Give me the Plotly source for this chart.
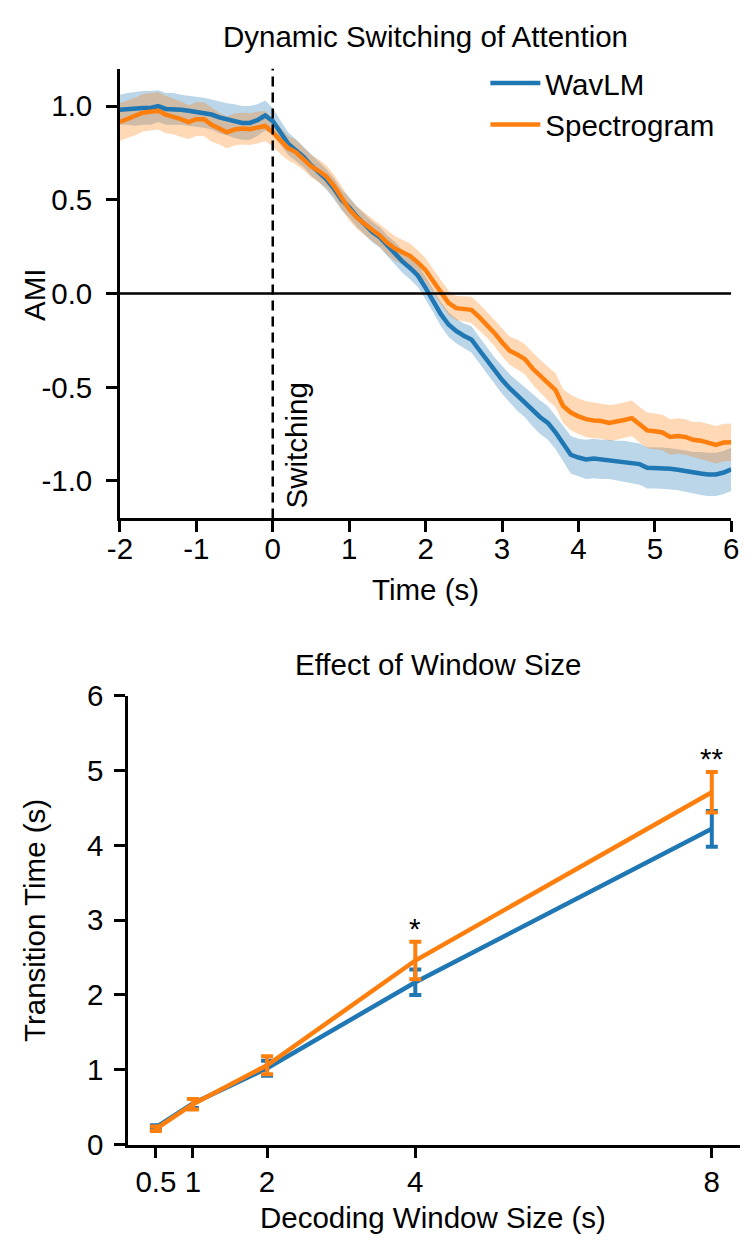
import plotly.graph_objects as go
import numpy as np

# top panel: AMI over time, 0.1 s steps from -2 to 6
time_s = np.round(np.arange(-2.0, 6.0001, 0.1), 1)

wavlm_ami = [0.98, 0.985, 0.985, 0.99, 0.99, 1.00, 0.985, 0.985, 0.98, 0.975,
             0.97, 0.965, 0.955, 0.94, 0.93, 0.92, 0.91, 0.91, 0.925, 0.95,
             0.92, 0.86, 0.80, 0.765, 0.73, 0.685, 0.65, 0.61, 0.56, 0.50,
             0.46, 0.41, 0.37, 0.33, 0.30, 0.255, 0.215, 0.17, 0.135, 0.095,
             0.03, -0.04, -0.11, -0.165, -0.20, -0.225, -0.245, -0.30, -0.355, -0.41,
             -0.46, -0.505, -0.545, -0.58, -0.625, -0.66, -0.69, -0.74, -0.80, -0.86,
             -0.875, -0.885, -0.88, -0.885, -0.885, -0.89, -0.895, -0.903, -0.91, -0.93,
             -0.93, -0.932, -0.935, -0.94, -0.948, -0.955, -0.96, -0.965, -0.965, -0.955,
             -0.938]
wavlm_sem = [0.08, 0.085, 0.09, 0.09, 0.09, 0.085, 0.085, 0.085, 0.08, 0.08,
             0.08, 0.08, 0.08, 0.085, 0.085, 0.09, 0.09, 0.09, 0.085, 0.08,
             0.07, 0.065, 0.06, 0.06, 0.055, 0.055, 0.055, 0.055, 0.055, 0.055,
             0.055, 0.055, 0.055, 0.055, 0.055, 0.055, 0.06, 0.06, 0.06, 0.06,
             0.06, 0.06, 0.065, 0.065, 0.065, 0.065, 0.07, 0.07, 0.07, 0.07,
             0.075, 0.075, 0.08, 0.08, 0.085, 0.09, 0.09, 0.09, 0.095, 0.10,
             0.10, 0.105, 0.105, 0.105, 0.105, 0.105, 0.11, 0.11, 0.11, 0.11,
             0.11, 0.11, 0.11, 0.11, 0.11, 0.11, 0.115, 0.115, 0.115, 0.115,
             0.115]

spec_ami = [0.915, 0.93, 0.945, 0.965, 0.97, 0.975, 0.955, 0.945, 0.93, 0.915,
            0.93, 0.93, 0.90, 0.88, 0.86, 0.875, 0.88, 0.877, 0.885, 0.894,
            0.86, 0.815, 0.776, 0.755, 0.72, 0.68, 0.655, 0.625, 0.575, 0.51,
            0.45, 0.405, 0.37, 0.34, 0.31, 0.27, 0.24, 0.22, 0.20, 0.165,
            0.125, 0.065, 0.005, -0.05, -0.078, -0.082, -0.087, -0.125, -0.165, -0.21,
            -0.26, -0.305, -0.325, -0.35, -0.40, -0.44, -0.48, -0.515, -0.60, -0.635,
            -0.655, -0.67, -0.677, -0.68, -0.69, -0.685, -0.675, -0.665, -0.70, -0.73,
            -0.735, -0.741, -0.765, -0.76, -0.765, -0.78, -0.785, -0.795, -0.807, -0.795,
            -0.793]
spec_sem = [0.10, 0.10, 0.10, 0.10, 0.10, 0.10, 0.10, 0.095, 0.095, 0.09,
            0.09, 0.09, 0.09, 0.085, 0.085, 0.085, 0.085, 0.085, 0.085, 0.08,
            0.075, 0.07, 0.065, 0.065, 0.06, 0.06, 0.06, 0.06, 0.06, 0.06,
            0.06, 0.06, 0.06, 0.06, 0.06, 0.065, 0.065, 0.065, 0.065, 0.065,
            0.065, 0.065, 0.065, 0.065, 0.065, 0.065, 0.07, 0.07, 0.07, 0.07,
            0.075, 0.075, 0.08, 0.08, 0.085, 0.085, 0.09, 0.09, 0.09, 0.095,
            0.095, 0.095, 0.095, 0.095, 0.095, 0.095, 0.095, 0.095, 0.095, 0.095,
            0.095, 0.095, 0.095, 0.095, 0.095, 0.095, 0.10, 0.10, 0.10, 0.10,
            0.10]

# bottom panel: transition time vs decoding window
windows = [0.5, 1, 2, 4, 8]
window_labels = ["0.5", "1", "2", "4", "8"]
wavlm_tt = [0.23, 0.55, 1.02, 2.17, 4.22]
wavlm_tt_err = [0.03, 0.06, 0.10, 0.17, 0.24]
spec_tt = [0.21, 0.54, 1.06, 2.46, 4.71]
spec_tt_err = [0.03, 0.07, 0.12, 0.25, 0.27]
sig_marks = ["", "", "", "*", "**"]

BLUE = "#1f77b4"
ORANGE = "#ff7f0e"
FONT = "Liberation Sans, Arial, sans-serif"
FS = 29.5

fig = go.Figure()


def band(x, mean, sem, rgba, axes):
    m = np.array(mean)
    s = np.array(sem)
    return go.Scatter(
        x=np.concatenate([x, x[::-1]]),
        y=np.concatenate([m + s, (m - s)[::-1]]),
        fill="toself", fillcolor=rgba, line=dict(width=0),
        mode="lines", showlegend=False, hoverinfo="skip",
        xaxis=axes[0], yaxis=axes[1])


fig.add_trace(band(time_s, wavlm_ami, wavlm_sem, "rgba(31,119,180,0.3)", ("x", "y")))
fig.add_trace(band(time_s, spec_ami, spec_sem, "rgba(255,127,14,0.3)", ("x", "y")))
fig.add_trace(go.Scatter(x=time_s, y=wavlm_ami, mode="lines", name="WavLM",
                         line=dict(color=BLUE, width=4.5)))
fig.add_trace(go.Scatter(x=time_s, y=spec_ami, mode="lines", name="Spectrogram",
                         line=dict(color=ORANGE, width=4.5)))

fig.add_trace(go.Scatter(
    x=windows, y=wavlm_tt, mode="lines", showlegend=False,
    line=dict(color=BLUE, width=4.5),
    error_y=dict(type="data", array=wavlm_tt_err, color=BLUE, thickness=4, width=6),
    xaxis="x2", yaxis="y2"))
fig.add_trace(go.Scatter(
    x=windows, y=spec_tt, mode="lines", showlegend=False,
    line=dict(color=ORANGE, width=4.5),
    error_y=dict(type="data", array=spec_tt_err, color=ORANGE, thickness=4, width=6),
    xaxis="x2", yaxis="y2"))

axis_common = dict(
    showline=True, linecolor="black", linewidth=2.5,
    ticks="outside", ticklen=11, tickwidth=2.5, tickcolor="black",
    showgrid=False, zeroline=False,
    tickfont=dict(family=FONT, size=FS, color="black"),
)

fig.update_layout(
    width=748, height=1256,
    margin=dict(l=0, r=0, t=0, b=0),
    paper_bgcolor="white", plot_bgcolor="white",
    font=dict(family=FONT, size=FS, color="black"),
    xaxis=dict(domain=[110 / 748, 739 / 748], range=[-2, 6],
               tickvals=[-2, -1, 0, 1, 2, 3, 4, 5, 6],
               ticktext=["-2", "-1", "0", "1", "2", "3", "4", "5", "6"],
               ticklabelstandoff=-9, anchor="y", **axis_common),
    yaxis=dict(domain=[1 - 515 / 1256, 1 - 53 / 1256], range=[-1.2, 1.2],
               tickvals=[1.0, 0.5, 0.0, -0.5, -1.0],
               ticktext=["1.0", "0.5", "0.0", "-0.5", "-1.0"],
               ticklabelstandoff=8, anchor="x", **axis_common),
    xaxis2=dict(domain=[118.4 / 748, 747.6 / 748], range=[0.125, 8.375],
                tickvals=windows, ticktext=window_labels,
                ticklabelstandoff=-2, anchor="y2", **axis_common),
    yaxis2=dict(domain=[1 - 1158 / 1256, 1 - 697 / 1256], range=[0, 6],
                tickvals=[0, 1, 2, 3, 4, 5, 6],
                ticklabelstandoff=5, anchor="x2", **axis_common),
    legend=dict(x=486 / 748, y=1 - 41.5 / 1256, xanchor="left", yanchor="top",
                bgcolor="rgba(0,0,0,0)", font=dict(family=FONT, size=FS),
                itemwidth=50, tracegroupgap=0),
    showlegend=True,
)

# reference lines
fig.add_shape(type="line", xref="x", yref="y", x0=-2, x1=6, y0=0, y1=0,
              line=dict(color="black", width=2.5), layer="above")
fig.add_shape(type="line", xref="x", yref="y", x0=0, x1=0, y0=-1.2, y1=1.2,
              line=dict(color="black", width=2.5, dash="10px,6px"), layer="above")

# titles and labels
fig.add_annotation(text="Dynamic Switching of Attention", xref="paper", yref="paper",
                   x=424 / 748, y=1 - 20 / 1256, showarrow=False,
                   xanchor="center", yanchor="middle")
fig.add_annotation(text="Effect of Window Size", xref="paper", yref="paper",
                   x=437 / 748, y=1 - 665 / 1256, showarrow=False,
                   xanchor="center", yanchor="middle")
fig.add_annotation(text="Time (s)", xref="paper", yref="paper",
                   x=424 / 748, y=1 - 588 / 1256, showarrow=False,
                   xanchor="center", yanchor="middle")
fig.add_annotation(text="Decoding Window Size (s)", xref="paper", yref="paper",
                   x=432 / 748, y=1 - 1233 / 1256, showarrow=False,
                   xanchor="center", yanchor="middle")
fig.add_annotation(text="AMI", xref="paper", yref="paper", textangle=-90,
                   x=22 / 748, y=1 - 285 / 1256, showarrow=False,
                   xanchor="center", yanchor="middle")
fig.add_annotation(text="Transition Time (s)", xref="paper", yref="paper", textangle=-90,
                   x=22 / 748, y=1 - 928 / 1256, showarrow=False,
                   xanchor="center", yanchor="middle")
fig.add_annotation(text="Switching", xref="x", yref="y", textangle=-90,
                   x=0.305, y=-0.81, showarrow=False,
                   xanchor="center", yanchor="middle")

# significance marks above the spectrogram error bars
for w, m, e, s in zip(windows, spec_tt, spec_tt_err, sig_marks):
    if s:
        fig.add_annotation(text=s, xref="x2", yref="y2", x=w, y=m + e,
                           yshift=13, showarrow=False,
                           xanchor="center", yanchor="middle")

# page margin off so the 748x1256 figure fills the window exactly
fig.write_html("out.html", config={"displayModeBar": False},
               post_script="document.body.style.margin='0';"
                           "document.body.style.overflow='hidden';")
